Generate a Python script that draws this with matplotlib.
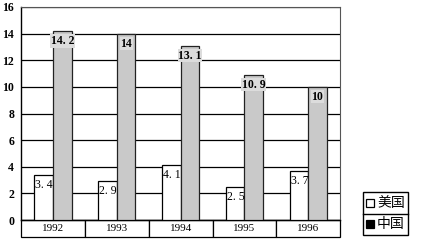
import numpy as np
import matplotlib
matplotlib.use("Agg")
import matplotlib.pyplot as plt
from matplotlib.patches import Rectangle
from matplotlib.lines import Line2D

years = ["1992", "1993", "1994", "1995", "1996"]
usa = [3.4, 2.9, 4.1, 2.5, 3.7]
china = [14.2, 14, 13.1, 10.9, 10]
usa_labels = ["3. 4", "2. 9", "4. 1", "2. 5", "3. 7"]
china_labels = ["14. 2", "14", "13. 1", "10. 9", "10"]
legend_names = ["美国", "中国"]
legend_colors = ["white", "black"]

plt.rcParams["font.family"] = ["Liberation Serif", "Noto Sans CJK SC"]

W, H = 422, 240
fig = plt.figure(figsize=(W / 100, H / 100), dpi=100)
ax = fig.add_axes([0.05, 0.083, 0.756, 0.888])

x = np.arange(len(years))
w = 0.29
ax.bar(x - w / 2, usa, w, color="white", edgecolor="black", linewidth=0.9, zorder=3)
ax.bar(x + w / 2, china, w, color="#c9c9c9", edgecolor="#222222", linewidth=0.9, zorder=3)

# value labels
for i in range(len(years)):
    ax.text(x[i] - w + 0.015, usa[i] - 0.3, usa_labels[i], ha="left", va="top",
            fontsize=8.5, zorder=4)
    ax.text(x[i] + w / 2, china[i] - 0.3, china_labels[i], ha="center", va="top",
            fontsize=8.5, fontweight="bold", zorder=4,
            bbox=dict(boxstyle="square,pad=0.05", fc="#dcdcdc", ec="none"))

ax.set_xlim(-0.5, 4.5)
ax.set_ylim(0, 16)
ax.set_yticks(range(0, 17, 2))
ax.yaxis.grid(True, color="black", linewidth=0.9, zorder=0)
ax.tick_params(axis="y", length=0, labelsize=8.5, pad=5)
for t in ax.get_yticklabels():
    t.set_fontweight("bold")
ax.set_xticks([])
for s in ["top", "right"]:
    ax.spines[s].set_color("#555555")
    ax.spines[s].set_linewidth(0.8)
ax.spines["left"].set_linewidth(1.0)
ax.spines["bottom"].set_linewidth(1.0)

# year boxes under the axis
tb = ax.table(cellText=[years], loc="bottom", cellLoc="center",
              bbox=[0, -0.08, 1, 0.08])
tb.auto_set_font_size(False)
tb.set_fontsize(8)
for c in tb.get_celld().values():
    c.set_linewidth(0.9)

# legend box with a divider line between the two entries
lx0, lx1, ly0, ly1 = 363 / W, 408 / W, 1 - 235 / H, 1 - 192 / H
fig.patches.append(Rectangle((lx0, ly0), lx1 - lx0, ly1 - ly0, transform=fig.transFigure,
                             fc="white", ec="black", lw=1.0))
ymid = (ly0 + ly1) / 2
fig.lines.append(Line2D([lx0, lx1], [ymid, ymid], transform=fig.transFigure,
                        color="black", lw=1.0))
for k, (name, col) in enumerate(zip(legend_names, legend_colors)):
    yc = ly1 - (k + 0.5) * (ly1 - ly0) / 2
    fig.patches.append(Rectangle((lx0 + 3 / W, yc - 4 / H), 8 / W, 8 / H,
                                 transform=fig.transFigure, fc=col, ec="black", lw=0.9))
    fig.text(lx0 + 14 / W, yc, name, va="center", ha="left", fontsize=10,
             family="Noto Sans CJK SC")

fig.savefig("out.png", dpi=100)
